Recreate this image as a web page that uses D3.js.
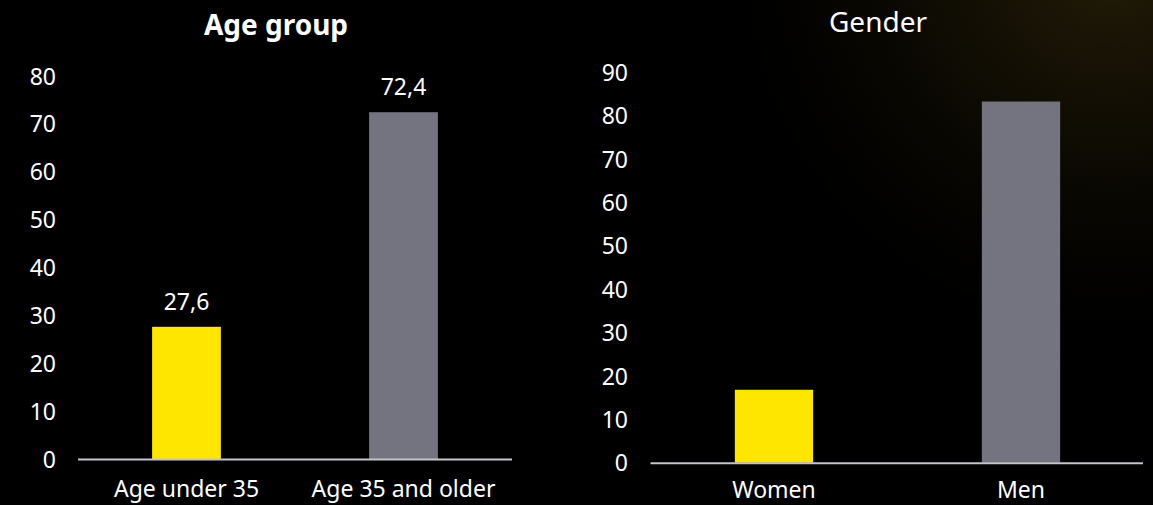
<!DOCTYPE html>
<html>
<head>
<meta charset="utf-8">
<script src="https://cdn.jsdelivr.net/npm/d3@7"></script>
<style>
  html, body { margin: 0; padding: 0; background: #000; }
  svg { display: block; }
  text { font-family: "Noto Sans", "Open Sans", sans-serif; fill: #ffffff; }
</style>
</head>
<body>
<svg id="chart" width="1153" height="505"></svg>
<script>
// ---- Data ----
const ageCategories = ["Age under 35", "Age 35 and older"];
const ageValues = [27.6, 72.4];
const ageTicks = [0, 10, 20, 30, 40, 50, 60, 70, 80];

const genderCategories = ["Women", "Men"];
const genderValues = [16.8, 83.2];
const genderTicks = [0, 10, 20, 30, 40, 50, 60, 70, 80, 90];

const barColors = ["#FFE600", "#747480"];

const svg = d3.select("#chart");

// background glow (top right)
const defs = svg.append("defs");
const grad = defs.append("radialGradient")
  .attr("id", "glow").attr("gradientUnits", "userSpaceOnUse")
  .attr("cx", 1110).attr("cy", -40).attr("r", 420);
grad.append("stop").attr("offset", "0%").attr("stop-color", "#33290b").attr("stop-opacity", 0.7);
grad.append("stop").attr("offset", "45%").attr("stop-color", "#1f1906").attr("stop-opacity", 0.45);
grad.append("stop").attr("offset", "100%").attr("stop-color", "#000").attr("stop-opacity", 0);
svg.append("rect").attr("width", 1153).attr("height", 505).attr("fill", "#000");
svg.append("rect").attr("width", 1153).attr("height", 505).attr("fill", "url(#glow)");

function drawPanel(cfg) {
  const g = svg.append("g");
  const x = d3.scaleBand().domain(cfg.categories)
    .range(cfg.xRange).paddingInner(0.683).paddingOuter(0.3415);
  const y = d3.scaleLinear().domain([0, cfg.yMax]).range(cfg.yRange);

  // title
  g.append("text")
    .attr("x", cfg.titleX).attr("y", cfg.titleY)
    .attr("text-anchor", "middle")
    .attr("font-size", 28)
    .attr("font-weight", cfg.titleBold ? 700 : 400)
    .text(cfg.title);

  // y axis (labels only)
  const yAxis = d3.axisLeft(y).tickValues(cfg.ticks).tickSize(0).tickPadding(0)
    .tickFormat(d3.format("d"));
  const ya = g.append("g").attr("transform", `translate(${cfg.tickX},0)`).call(yAxis);
  ya.select(".domain").remove();
  ya.selectAll("text")
    .attr("font-size", 23)
    .attr("fill", "#ffffff")
    .style("font-family", '"Noto Sans", sans-serif')
    .attr("dy", "0.36em");

  // bars
  g.selectAll("rect.bar").data(cfg.values).enter().append("rect")
    .attr("class", "bar")
    .attr("x", (d, i) => x(cfg.categories[i]))
    .attr("width", x.bandwidth())
    .attr("y", d => y(d))
    .attr("height", d => y(0) - y(d))
    .attr("fill", (d, i) => barColors[i]);

  // x axis baseline
  g.append("line")
    .attr("x1", cfg.xRange[0]).attr("x2", cfg.lineEnd)
    .attr("y1", y(0) + 0.5).attr("y2", y(0) + 0.5)
    .attr("stroke", "#c4c4cd").attr("stroke-width", 2);

  // x labels
  const xAxis = d3.axisBottom(x).tickSize(0).tickPadding(0);
  const xa = g.append("g").attr("transform", `translate(0,${cfg.xLabelY})`).call(xAxis);
  xa.select(".domain").remove();
  xa.selectAll("text")
    .attr("font-size", 23)
    .attr("fill", "#ffffff")
    .attr("dy", 0)
    .attr("y", 0)
    .style("font-family", '"Noto Sans", sans-serif');

  // value labels
  if (cfg.showValues) {
    g.selectAll("text.val").data(cfg.values).enter().append("text")
      .attr("class", "val")
      .attr("x", (d, i) => x(cfg.categories[i]) + x.bandwidth() / 2)
      .attr("y", d => y(d) - 17)
      .attr("text-anchor", "middle")
      .attr("font-size", 23)
      .text(d => d3.format(".1f")(d).replace(".", ","));
  }
}

drawPanel({
  title: "Age group", titleX: 276, titleY: 35, titleBold: true,
  categories: ageCategories, values: ageValues, ticks: ageTicks,
  yMax: 80, yRange: [459, 75.8], tickX: 56,
  xRange: [78, 512], lineEnd: 512, xLabelY: 497, showValues: true
});

drawPanel({
  title: "Gender", titleX: 878, titleY: 32, titleBold: false,
  categories: genderCategories, values: genderValues, ticks: genderTicks,
  yMax: 90, yRange: [462.7, 72], tickX: 628,
  xRange: [650.5, 1144.5], lineEnd: 1143, xLabelY: 498, showValues: false
});
</script>
</body>
</html>
